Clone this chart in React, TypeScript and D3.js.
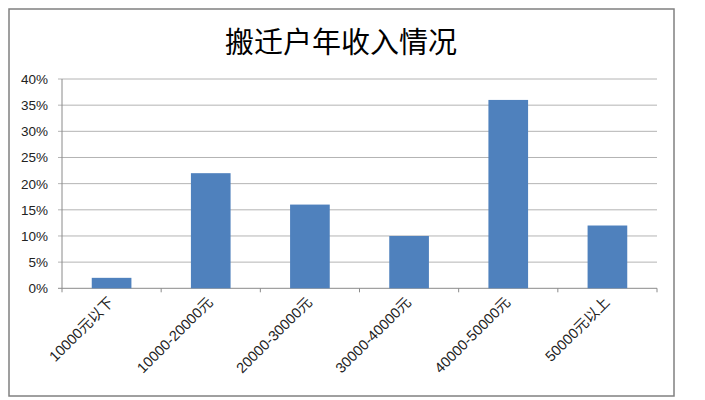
import { useEffect, useRef } from "react";
import * as d3 from "d3";

const categories = ["10000元以下", "10000-20000元", "20000-30000元", "30000-40000元", "40000-50000元", "50000元以上"];
const shares = [0.02, 0.22, 0.16, 0.10, 0.36, 0.12];
const yTicks = [0, 0.05, 0.1, 0.15, 0.2, 0.25, 0.3, 0.35, 0.4];
const title = "搬迁户年收入情况";

const IncomeChart: React.FC = () => {
  const svgRef = useRef<SVGSVGElement | null>(null);
  const width = 705;
  const height = 400;

  useEffect(() => {
    if (!svgRef.current) return;
    const svg = d3.select(svgRef.current);
    svg.selectAll("*").remove();

    const left = 62, right = 657, top = 79, bottom = 288.3;

    // chart frame
    svg.append("rect")
      .attr("x", 9).attr("y", 9)
      .attr("width", 665).attr("height", 387)
      .attr("fill", "#fff")
      .attr("stroke", "#808080")
      .attr("stroke-width", 1.5);

    svg.append("text")
      .attr("x", 341).attr("y", 53)
      .attr("text-anchor", "middle")
      .attr("font-family", "'Noto Sans CJK SC', sans-serif")
      .attr("font-size", 29)
      .attr("fill", "#000")
      .text(title);

    const x = d3.scaleBand().domain(categories).range([left, right]).paddingInner(0.6).paddingOuter(0.3);
    const xTick = d3.scaleBand().domain(categories).range([left, right]);
    const y = d3.scaleLinear().domain([0, 0.4]).range([bottom, top]);

    // gridlines
    svg.append("g")
      .selectAll("line")
      .data(yTicks)
      .enter()
      .append("line")
      .attr("x1", left - 4).attr("x2", right)
      .attr("y1", d => y(d)).attr("y2", d => y(d))
      .attr("stroke", d => d === 0 ? "#8a8a8a" : "#b4b4b4")
      .attr("stroke-width", 1);

    svg.append("line")
      .attr("x1", left).attr("x2", left)
      .attr("y1", top).attr("y2", bottom)
      .attr("stroke", "#8a8a8a");

    svg.append("g")
      .selectAll("text")
      .data(yTicks)
      .enter()
      .append("text")
      .attr("x", 48)
      .attr("y", d => y(d) + 5)
      .attr("text-anchor", "end")
      .attr("font-family", "'Liberation Sans', sans-serif")
      .attr("font-size", 13.5)
      .attr("fill", "#222")
      .text(d => `${Math.round(d * 100)}%`);

    // x ticks
    const edges = categories.map(c => xTick(c)!).concat([right]);
    svg.append("g")
      .selectAll("line")
      .data(edges)
      .enter()
      .append("line")
      .attr("x1", d => d).attr("x2", d => d)
      .attr("y1", bottom).attr("y2", bottom + 4)
      .attr("stroke", "#8a8a8a");

    svg.append("g")
      .selectAll("rect")
      .data(shares)
      .enter()
      .append("rect")
      .attr("x", (_d, i) => x(categories[i])!)
      .attr("y", d => y(d))
      .attr("width", x.bandwidth())
      .attr("height", d => bottom - y(d))
      .attr("fill", "#4f81bd");

    svg.append("g")
      .selectAll("text")
      .data(categories)
      .enter()
      .append("text")
      .attr("transform", d => `translate(${xTick(d)! + xTick.bandwidth() / 2 + 3},${bottom + 15}) rotate(-45)`)
      .attr("text-anchor", "end")
      .attr("font-family", "'Liberation Sans', 'Noto Sans CJK SC', sans-serif")
      .attr("font-size", 14.5)
      .attr("fill", "#222")
      .text(d => d);
  }, []);

  return <svg ref={svgRef} width={width} height={height} style={{ display: "block" }} />;
};

export default function App() {
  return (
    <div style={{ position: "absolute", left: 0, top: 0, background: "#fff" }}>
      <IncomeChart />
    </div>
  );
}
